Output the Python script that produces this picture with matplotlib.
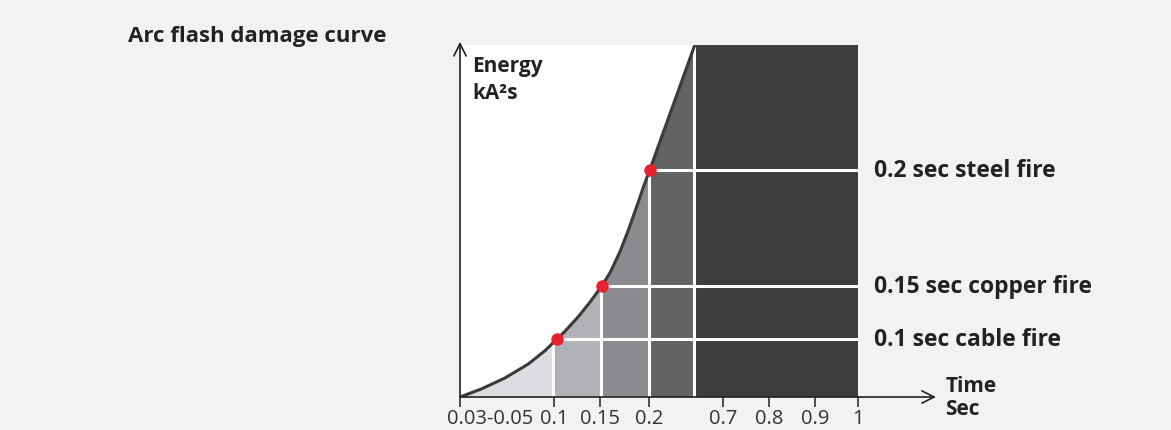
import matplotlib
matplotlib.use("Agg")
import matplotlib.pyplot as plt
from matplotlib.patches import Polygon
from matplotlib.transforms import ScaledTranslation

plt.rcParams['font.family'] = ['Open Sans', 'DejaVu Sans']

# axis positions are on a 0-100 scale (time axis is not linear)
tick_pos = [0, 23.6, 35.2, 47.5, 66.1, 77.6, 89.2, 100]
tick_labels = ["0.03-0.05", "0.1", "0.15", "0.2", "0.7", "0.8", "0.9", "1"]

# damage curve
curve_x = [0, 5.4, 11.3, 17.2, 21.4, 24.4, 26.4, 29.7, 32.7, 35.6, 37.7, 40.2, 42.3, 44.4, 46.1, 47.7, 59.0]
curve_y = [0, 2.3, 5.4, 9.4, 13.2, 16.5, 18.7, 22.8, 27.0, 31.5, 35.3, 41.3, 47.4, 54.1, 59.7, 64.6, 100]

# shaded zones between time boundaries
zone_edges = [0, 23.4, 35.4, 47.6, 58.9, 100]
zone_colors = ['#dcdde0', '#b1b2b5', '#8a8b8e', '#636366', '#3d3d3d']

# fire events
event_x = [24.4, 35.6, 47.7]
event_y = [16.5, 31.5, 64.6]
event_labels = ["0.1 sec cable fire", "0.15 sec copper fire", "0.2 sec steel fire"]

bg = '#f1f2f4'
ink = '#222222'

fig = plt.figure(figsize=(11.71, 4.30), dpi=100, facecolor=bg)
ax = fig.add_axes([460 / 1171, 33 / 430, 398 / 1171, 352 / 430])
ax.set_facecolor('white')
ax.set_xlim(0, 100)
ax.set_ylim(0, 100)
for s in ax.spines.values():
    s.set_visible(False)

# area under the curve, used to clip the zones
under = Polygon(list(zip(curve_x, curve_y)) + [(curve_x[-1], 0)], closed=True,
                facecolor='none', edgecolor='none', transform=ax.transData)
ax.add_patch(under)

for i in range(len(zone_colors)):
    band = ax.axvspan(zone_edges[i], zone_edges[i + 1], color=zone_colors[i], lw=0, zorder=1)
    if i < len(zone_colors) - 1:
        band.set_clip_path(under)

# white grid lines
for e in zone_edges[1:-1]:
    ln, = ax.plot([e, e], [0, 100], color='white', lw=2.2, zorder=2)
    if e != zone_edges[-2]:
        ln.set_clip_path(under)
for x, y in zip(event_x, event_y):
    ax.plot([x, 100], [y, y], color='white', lw=2.2, zorder=2)

ax.plot(curve_x, curve_y, color='#3a3a3a', lw=2.2, zorder=3,
        solid_capstyle='round', solid_joinstyle='round')
ax.plot(event_x, event_y, 'o', color='#e8212e', ms=9, zorder=4, mec='none')

for x, y, lab in zip(event_x, event_y, event_labels):
    ax.annotate(lab, xy=(100, y), xytext=(11.5, -5.3), textcoords='offset points',
                va='baseline', ha='left', fontsize=16.5, fontweight='bold', color=ink,
                annotation_clip=False)

# axes with arrows
arrow = dict(arrowstyle='->', color=ink, lw=1.2, mutation_scale=22, shrinkA=0, shrinkB=0)
ax.annotate('', xy=(0, 100.9), xytext=(0, 0), arrowprops=arrow, annotation_clip=False)
ax.annotate('', xy=(119.6, 0), xytext=(0, 0), arrowprops=arrow, annotation_clip=False)

ax.set_xticks(tick_pos, tick_labels)
ax.set_yticks([])
ax.tick_params(axis='x', direction='out', length=7, width=1.1, color=ink,
               labelsize=14.5, labelcolor='#333333', pad=2)
first = ax.get_xticklabels()[0]
first.set_ha('left')
first.set_transform(first.get_transform() + ScaledTranslation(-13 / 100, 0, fig.dpi_scale_trans))

ax.text(3.0, 92.4, "Energy", fontsize=15, fontweight='bold', color=ink, va='baseline')
ax.text(3.0, 84.7, "kA²s", fontsize=15, fontweight='bold', color=ink, va='baseline')
ax.text(121.9, 1.5, "Time", fontsize=15, fontweight='bold', color=ink, va='baseline', clip_on=False)
ax.text(121.9, -5.1, "Sec", fontsize=15, fontweight='bold', color=ink, va='baseline', clip_on=False)

fig.text(128 / 1171, (430 - 41.7) / 430, "Arc flash damage curve", fontsize=16,
         fontweight='bold', color=ink, va='baseline', ha='left')

fig.savefig('out.png', dpi=100, facecolor=bg)
